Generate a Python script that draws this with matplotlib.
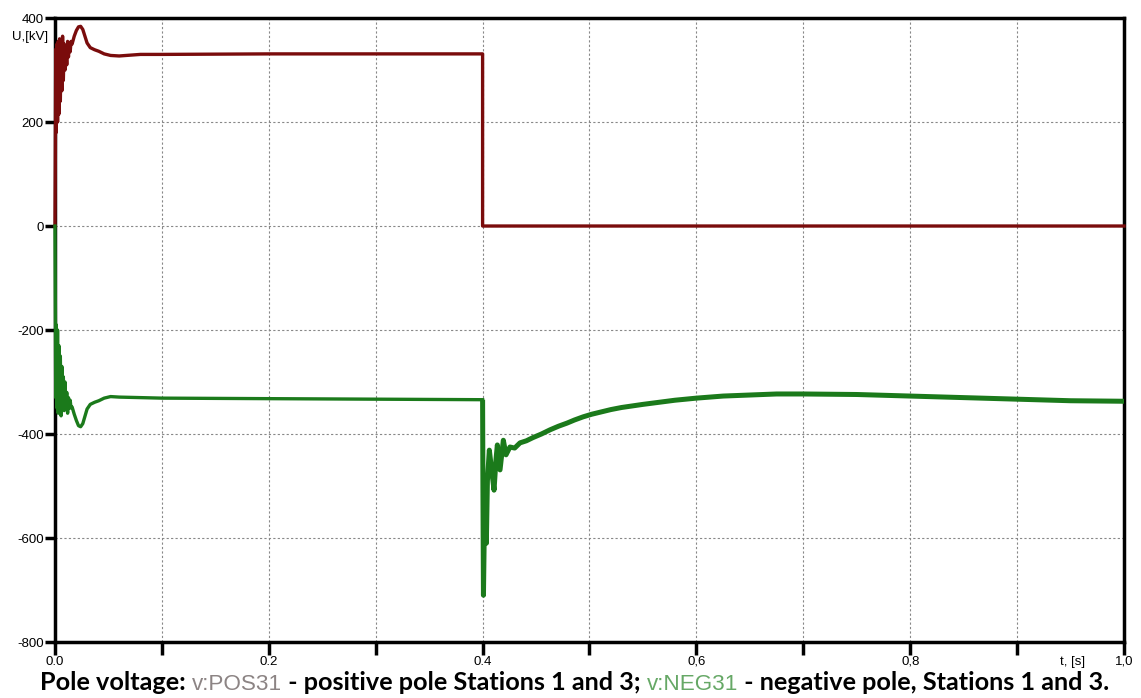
#!/usr/bin/env python3
"""
Pole voltage of the DC link, positive and negative pole, Stations 1 and 3.
"""

import matplotlib
matplotlib.use("Agg")
import matplotlib.pyplot as plt
from matplotlib.ticker import MultipleLocator, FixedLocator

# positive pole v:POS31, time [s] / voltage [kV]
pos_t = [0.0, 0.0003, 0.0007, 0.0012, 0.0018, 0.0024, 0.003, 0.0036, 0.0043,
         0.005, 0.0057, 0.0064, 0.0071, 0.0078, 0.0086, 0.0094, 0.0102,
         0.011, 0.0118, 0.0126, 0.0134, 0.0142, 0.015, 0.016, 0.018, 0.020,
         0.022, 0.024, 0.026, 0.028, 0.030, 0.033, 0.037, 0.041, 0.046,
         0.052, 0.06, 0.08, 0.1, 0.2, 0.3, 0.4, 0.4, 1.0]
pos_v = [0, 120, 340, 180, 350, 200, 355, 215, 360,
         240, 345, 260, 365, 280, 350, 300, 345,
         310, 355, 325, 350, 335, 355, 350, 365, 376,
         383, 384, 378, 365, 352, 343, 339, 336, 331,
         328, 327, 330, 330, 331, 331, 331, 0, 0]

# negative pole v:NEG31
neg_t = [0.0, 0.0003, 0.0007, 0.0012, 0.0018, 0.0024, 0.003, 0.0036, 0.0043,
         0.005, 0.0057, 0.0064, 0.0071, 0.0078, 0.0086, 0.0094, 0.0102,
         0.011, 0.0118, 0.0126, 0.0134, 0.0142, 0.015, 0.016, 0.018, 0.020,
         0.022, 0.024, 0.026, 0.028, 0.030, 0.033, 0.037, 0.041, 0.046,
         0.052, 0.06, 0.1, 0.2, 0.3,
         0.4, 0.4003, 0.4008, 0.4015, 0.4025, 0.4035, 0.4045, 0.4063,
         0.4085, 0.4107, 0.4125, 0.4138, 0.4163, 0.4194, 0.4219, 0.4256,
         0.430, 0.435, 0.441, 0.447, 0.455, 0.463, 0.471, 0.479, 0.486,
         0.494, 0.502, 0.51, 0.52, 0.53, 0.54, 0.55, 0.565, 0.58, 0.6,
         0.625, 0.65, 0.675, 0.7, 0.75, 0.8, 0.85, 0.9, 0.95, 1.0]
neg_v = [0, -140, -330, -190, -350, -200, -360, -230, -345,
         -250, -365, -270, -350, -290, -355, -300, -350,
         -320, -360, -330, -350, -335, -350, -348, -362, -374,
         -384, -386, -380, -366, -352, -343, -339, -336, -331,
         -328, -329, -331, -332, -333,
         -334, -500, -710, -600, -480, -610, -490, -431,
         -470, -508, -450, -421, -469, -412, -440, -425,
         -427, -417, -413, -407, -400, -392, -385, -379, -373,
         -367, -362, -358, -353, -349, -346, -343, -339, -335, -331,
         -327, -325, -323, -323, -324, -327, -330, -333, -336, -337]

x_ticks = [0.0, 0.2, 0.4, 0.6, 0.8, 1.0]
x_labels = ['0.0', '0.2', '0.4', '0,6', '0,8', '1,0']
y_ticks = [400, 200, 0, -200, -400, -600, -800]

caption = [
    ("Pole voltage: ", "black", True),
    ("v:POS31", "#8c8484", False),
    (" - positive pole Stations 1 and 3; ", "black", True),
    ("v:NEG31", "#66a866", False),
    (" - negative pole, Stations 1 and 3.", "black", True),
]

fig = plt.figure(figsize=(11.41, 6.98), dpi=100)
ax = fig.add_axes([0.0482, 0.0802, 0.9369, 0.894])

# lines over the spines, so the start at t=0 shows on the axis
ax.plot(pos_t, pos_v, color='#7a0c0c', lw=2.4, zorder=3, clip_on=False)
# the negative pole trace is drawn heavier after the fault at 0.4 s
split = neg_t.index(0.4) + 1
ax.plot(neg_t[:split], neg_v[:split], color='#1b7a1b', lw=2.4, zorder=3,
        clip_on=False)
ax.plot(neg_t[split - 1:], neg_v[split - 1:], color='#1b7a1b', lw=3.6,
        zorder=3, solid_capstyle='butt')

ax.set_xlim(0, 1.0)
ax.set_ylim(-800, 400)

ax.xaxis.set_major_locator(MultipleLocator(0.1))
ax.xaxis.set_major_formatter(plt.NullFormatter())
ax.yaxis.set_major_locator(FixedLocator(y_ticks))
ax.set_yticklabels([str(v) for v in y_ticks], fontsize=9.5,
                   family='Liberation Sans')
ax.tick_params(axis='y', direction='out', length=7, width=2.5, pad=1)
ax.tick_params(axis='x', direction='out', length=9, width=2.5)

for spine in ax.spines.values():
    spine.set_linewidth(2.5)
    spine.set_color('black')

ax.grid(True, which='major', color='#888888', linestyle=(0, (2, 2)), lw=0.8)

# x tick labels placed by hand (mixed decimal marks as in the original)
for xv, lab in zip(x_ticks, x_labels):
    ax.text(xv, -0.022, lab, transform=ax.get_xaxis_transform(),
            ha='center', va='top', fontsize=9.5, family='Liberation Sans')

ax.text(0.952, -0.022, 't, [s]', transform=ax.transAxes, ha='center',
        va='top', fontsize=9.5, family='Liberation Sans')
ax.text(-0.040, 0.979, 'U,[kV]', transform=ax.transAxes, ha='left',
        va='top', fontsize=9.5, family='Liberation Sans')

# caption with coloured pieces, placed one after another
fig.canvas.draw()
renderer = fig.canvas.get_renderer()
x = 40
for txt, col, bold in caption:
    if bold:
        t = fig.text(x / 1141, 0.011, txt, color=col, fontsize=18.2,
                     family='Lato', weight='bold', va='baseline')
    else:
        t = fig.text(x / 1141, 0.011, txt, color=col, fontsize=16.2,
                     family='Liberation Sans', va='baseline')
    bb = t.get_window_extent(renderer=renderer)
    x += bb.width

fig.savefig('out.png', dpi=100)
